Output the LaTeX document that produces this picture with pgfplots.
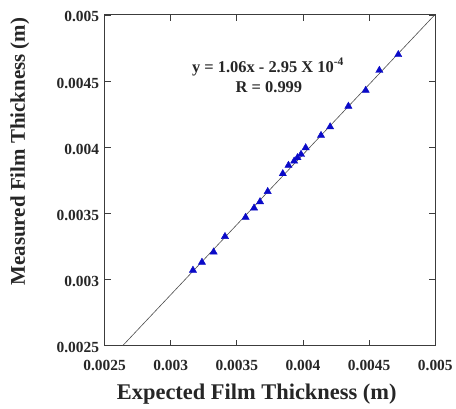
\documentclass[border=0pt]{standalone}
\usepackage{fontspec}
\setmainfont{Liberation Serif}
\usepackage{pgfplots}
\pgfplotsset{compat=1.18}

\definecolor{tri}{RGB}{10,10,200}
\definecolor{spine}{RGB}{60,60,60}

\begin{document}
\begin{tikzpicture}
\path (-105pt,-63pt) rectangle (351pt,347pt);
\begin{axis}[
  scale only axis,
  width=332pt, height=332pt,
  xmin=0.0025, xmax=0.005,
  ymin=0.0025, ymax=0.005,
  xtick={0.0025,0.003,0.0035,0.004,0.0045,0.005},
  ytick={0.0025,0.003,0.0035,0.004,0.0045,0.005},
  xticklabels={0.0025,0.003,0.0035,0.004,0.0045,0.005},
  yticklabels={0.0025,0.003,0.0035,0.004,0.0045,0.005},
  scaled ticks=false,
  tick align=inside,
  major tick length=6pt,
  axis line style={draw=spine, line width=0.9pt},
  every tick/.style={draw=spine, line width=0.8pt},
  tick label style={font=\bfseries\fontsize{15.5}{17}\selectfont, text=black!85},
  xticklabel style={yshift=-11pt},
  yticklabel style={xshift=-2pt, yshift=-2pt},
  every axis x label/.style={at={(axis description cs:0.46,-0.145)}, anchor=center,
    font=\bfseries\fontsize{22.5}{25}\selectfont, text=black!85},
  every axis y label/.style={at={(axis description cs:-0.256,0.587)}, rotate=90, anchor=center,
    font=\bfseries\fontsize{21}{24}\selectfont, text=black!85},
  xlabel={Expected Film Thickness (m)},
  ylabel={Measured Film Thickness (m)},
  clip=true,
]
% fitted line y = 1.06x - 2.95e-4
\addplot[black!70, line width=0.6pt] coordinates {
  (0.002637, 0.0025)
  (0.004995, 0.005)
};
\addplot[only marks, mark=triangle*, mark size=4.2pt, color=tri] coordinates {
  (0.003168, 0.003070)
  (0.003236, 0.003130)
  (0.003324, 0.003208)
  (0.003410, 0.003325)
  (0.003566, 0.003470)
  (0.003630, 0.003540)
  (0.003675, 0.003588)
  (0.003733, 0.003665)
  (0.003847, 0.003800)
  (0.003890, 0.003863)
  (0.003933, 0.003895)
  (0.003958, 0.003921)
  (0.003985, 0.003946)
  (0.004020, 0.003996)
  (0.004136, 0.004089)
  (0.004205, 0.004154)
  (0.004343, 0.004310)
  (0.004474, 0.004430)
  (0.004577, 0.004581)
  (0.004720, 0.004700)
};
\node[font=\bfseries\fontsize{16.5}{18}\selectfont, text=black!85] at (rel axis cs:0.494,0.843) {y = 1.06x - 2.95 X 10\textsuperscript{-4}};
\node[font=\bfseries\fontsize{16.5}{18}\selectfont, text=black!85] at (rel axis cs:0.497,0.783) {R = 0.999};
\end{axis}
\end{tikzpicture}
\end{document}
